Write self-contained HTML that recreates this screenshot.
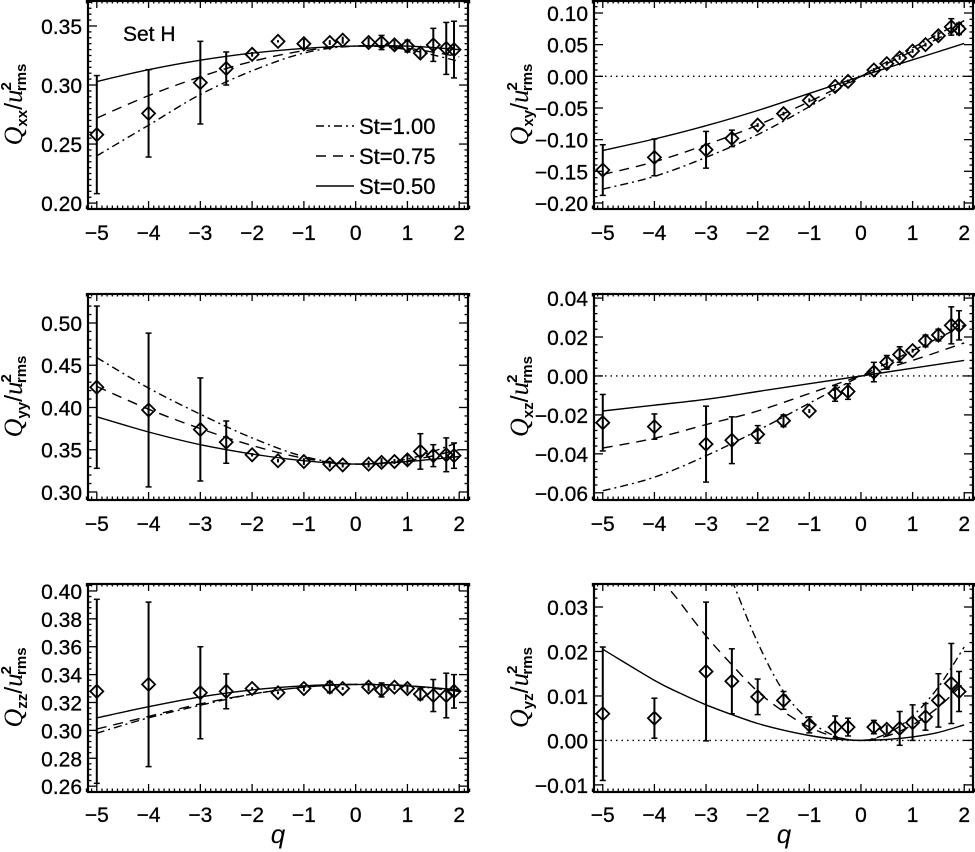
<!DOCTYPE html>
<html><head><meta charset="utf-8"><style>
html,body{margin:0;padding:0;background:#fff}
svg{display:block}
text{font-family:"Liberation Sans",sans-serif;fill:#000}
</style></head><body>
<svg id="fig" width="975" height="852" viewBox="0 0 975 852" xmlns="http://www.w3.org/2000/svg"></svg>
<script>
// ---- data ----
const qData = [-5,-4,-3,-2.5,-2,-1.5,-1,-0.5,-0.25,0.25,0.5,0.75,1,1.25,1.5,1.75,1.9];
const qCurve = [-5,-4,-3,-2,-1,0,1,2];
const qCurveYZ = [-5,-4,-3.5,-3,-2.5,-2,-1.5,-1,-0.5,0,0.5,1,1.5,2];

const xxVal = [0.258,0.276,0.302,0.314,0.326,0.337,0.335,0.336,0.338,0.336,0.336,0.334,0.333,0.327,0.334,0.331,0.330];
const xxErr = [0.050,0.037,0.035,0.014,0.002,0.001,0.004,0.002,0.003,0.004,0.006,0.004,0.005,0.004,0.014,0.022,0.024];
const xxSt100 = [0.240,0.266,0.292,0.312,0.327,0.333,0.330,0.320];
const xxSt075 = [0.272,0.291,0.307,0.320,0.329,0.333,0.331,0.324];
const xxSt050 = [0.303,0.313,0.321,0.327,0.331,0.333,0.333,0.330];

const xyVal = [-0.148,-0.128,-0.116,-0.098,-0.077,-0.059,-0.038,-0.016,-0.008,0.010,0.020,0.029,0.040,0.050,0.064,0.078,0.075];
const xyErr = [0.040,0.029,0.029,0.013,0.003,0.003,0.003,0.003,0.003,0.003,0.003,0.003,0.003,0.003,0.007,0.013,0.009];
const xySt100 = [-0.178,-0.158,-0.128,-0.092,-0.048,0,0.045,0.088];
const xySt075 = [-0.155,-0.135,-0.108,-0.077,-0.040,0,0.040,0.080];
const xySt050 = [-0.117,-0.099,-0.078,-0.054,-0.027,0,0.026,0.052];

const yyVal = [0.424,0.397,0.374,0.359,0.344,0.337,0.336,0.333,0.332,0.333,0.335,0.336,0.338,0.348,0.343,0.344,0.343];
const yyErr = [0.096,0.091,0.061,0.025,0.002,0.002,0.004,0.004,0.003,0.004,0.005,0.003,0.006,0.021,0.013,0.020,0.015];
const yySt100 = [0.459,0.423,0.392,0.364,0.342,0.333,0.339,0.359];
const yySt075 = [0.425,0.398,0.375,0.355,0.340,0.333,0.337,0.350];
const yySt050 = [0.389,0.371,0.356,0.345,0.337,0.333,0.336,0.342];

const xzVal = [-0.024,-0.026,-0.035,-0.033,-0.030,-0.023,-0.018,-0.009,-0.008,0.002,0.007,0.011,0.013,0.018,0.021,0.026,0.026];
const xzErr = [0.0145,0.0065,0.0195,0.012,0.0045,0.003,0.001,0.004,0.004,0.005,0.0035,0.004,0.001,0.003,0.003,0.0095,0.0075];
const xzSt100 = [-0.059,-0.052,-0.041,-0.028,-0.014,0,0.013,0.026];
const xzSt075 = [-0.037,-0.032,-0.025,-0.018,-0.009,0,0.008,0.017];
const xzSt050 = [-0.018,-0.015,-0.012,-0.008,-0.004,0,0.004,0.008];

const zzVal = [0.328,0.333,0.327,0.328,0.330,0.327,0.330,0.331,0.330,0.331,0.329,0.331,0.330,0.326,0.325,0.325,0.328];
const zzErr = [0.066,0.059,0.033,0.0125,0.001,0.001,0.002,0.004,0.001,0.003,0.005,0.002,0.003,0.004,0.0115,0.016,0.012];
const zzSt100 = [0.298,0.309,0.318,0.326,0.331,0.333,0.332,0.328];
const zzSt075 = [0.301,0.310,0.319,0.326,0.331,0.333,0.332,0.328];
const zzSt050 = [0.309,0.317,0.324,0.329,0.332,0.333,0.332,0.329];

const yzVal = [0.006,0.005,0.0155,0.0133,0.0098,0.009,0.0035,0.003,0.003,0.003,0.0025,0.0027,0.004,0.0053,0.009,0.0128,0.011];
const yzErr = [0.015,0.0045,0.0156,0.0073,0.004,0.002,0.0018,0.0025,0.002,0.0015,0.001,0.0038,0.004,0.003,0.006,0.009,0.0045];
const yzSt100 = [0.12,0.08,0.064,0.050,0.036,0.022,0.011,0.0045,0.001,0,0.0015,0.0055,0.012,0.021];
const yzSt075 = [0.060,0.039,0.031,0.0235,0.017,0.011,0.0065,0.003,0.0008,0,0.001,0.0035,0.0075,0.013];
const yzSt050 = [0.0205,0.0135,0.0106,0.008,0.0058,0.0038,0.0023,0.0011,0.0003,0,0.0002,0.0008,0.0018,0.0035];

const xTicks = [-5,-4,-3,-2,-1,0,1,2];
const xxTicks = ["0.20","0.25","0.30","0.35"];
const xyTicks = ["-0.20","-0.15","-0.10","-0.05","0.00","0.05","0.10"];
const yyTicks = ["0.30","0.35","0.40","0.45","0.50"];
const xzTicks = ["-0.06","-0.04","-0.02","0.00","0.02","0.04"];
const zzTicks = ["0.26","0.28","0.30","0.32","0.34","0.36","0.38","0.40"];
const yzTicks = ["-0.01","0.00","0.01","0.02","0.03"];

// ---- drawing ----
const NS="http://www.w3.org/2000/svg";
const svg=document.getElementById('fig');
function mk(tag,attrs,parent){const e=document.createElementNS(NS,tag);for(const k in attrs)e.setAttribute(k,attrs[k]);(parent||svg).appendChild(e);return e;}

const panels=[
 {id:'xx',sub:'xx',L:88,R:468,T:0,B:209,y0:0.195,y1:0.372,yminor:0.005,ticks:xxTicks,val:xxVal,err:xxErr,c:[xxSt100,xxSt075,xxSt050],cq:qCurve,xlab:232,zero:false},
 {id:'xy',sub:'xy',L:594,R:973,T:0,B:209,y0:-0.2095,y1:0.1205,yminor:0.01,ticks:xyTicks,val:xyVal,err:xyErr,c:[xySt100,xySt075,xySt050],cq:qCurve,xlab:232,zero:true},
 {id:'yy',sub:'yy',L:88,R:468,T:293,B:500,y0:0.2905,y1:0.5355,yminor:0.01,ticks:yyTicks,val:yyVal,err:yyErr,c:[yySt100,yySt075,yySt050],cq:qCurve,xlab:523,zero:false},
 {id:'xz',sub:'xz',L:594,R:973,T:293,B:500,y0:-0.0637,y1:0.0426,yminor:0.004,ticks:xzTicks,val:xzVal,err:xzErr,c:[xzSt100,xzSt075,xzSt050],cq:qCurve,xlab:523,zero:true},
 {id:'zz',sub:'zz',L:88,R:468,T:583,B:792,y0:0.2558,y1:0.4057,yminor:0.004,ticks:zzTicks,val:zzVal,err:zzErr,c:[zzSt100,zzSt075,zzSt050],cq:qCurve,xlab:814,zero:false},
 {id:'yz',sub:'yz',L:594,R:973,T:583,B:792,y0:-0.0116,y1:0.0354,yminor:0.002,ticks:yzTicks,val:yzVal,err:yzErr,c:[yzSt100,yzSt075,yzSt050],cq:qCurveYZ,xlab:814,zero:true}
];
const dashes=["8,4,2,4","10,7",null];

function spline(px,py){
 let d='M'+px[0].toFixed(1)+','+py[0].toFixed(1);
 for(let i=0;i<px.length-1;i++){
  const x0=px[Math.max(i-1,0)],y0=py[Math.max(i-1,0)],x1=px[i],y1=py[i],x2=px[i+1],y2=py[i+1],x3=px[Math.min(i+2,px.length-1)],y3=py[Math.min(i+2,px.length-1)];
  const c1x=x1+(x2-x0)/6,c1y=y1+(y2-y0)/6,c2x=x2-(x3-x1)/6,c2y=y2-(y3-y1)/6;
  d+=' C'+c1x.toFixed(1)+','+c1y.toFixed(1)+' '+c2x.toFixed(1)+','+c2y.toFixed(1)+' '+x2.toFixed(1)+','+y2.toFixed(1);
 }
 return d;
}

panels.forEach(p=>{
 const xs=q=>p.L+(q+5.17)/7.34*(p.R-p.L);
 const ys=v=>p.B-(v-p.y0)/(p.y1-p.y0)*(p.B-p.T);
 const g=mk('g',{});
 
 
 const cp=mk('clipPath',{id:'clip'+p.id},g);
 mk('rect',{x:p.L,y:p.T,width:p.R-p.L,height:p.B-p.T},cp);
 // ticks
 const tk=mk('g',{stroke:'#000','stroke-width':1.3},g);
 
 
 for(let i=-52;i<=22;i++){const q=i/10;const x=xs(q);const maj=(i%10===0);const len=maj?8:3.5;
  mk('line',{x1:x,y1:p.B,x2:x,y2:p.B-len},tk);mk('line',{x1:x,y1:p.T,x2:x,y2:p.T+len},tk);}
 const yfirst=Math.ceil(p.y0/p.yminor-1e-6),ylast=Math.floor(p.y1/p.yminor+1e-6);
 const majVals=p.ticks.map(Number);
 for(let i=yfirst;i<=ylast;i++){const v=i*p.yminor;const y=ys(v);
  const maj=majVals.some(m=>Math.abs(m-v)<p.yminor/10);const len=maj?9:3.5;
  mk('line',{x1:p.L,y1:y,x2:p.L+len,y2:y},tk);mk('line',{x1:p.R,y1:y,x2:p.R-len,y2:y},tk);}
 // tick labels
 xTicks.forEach(q=>{const t=mk('text',{x:xs(q),y:p.xlab+8,'font-size':21,'text-anchor':'middle','stroke':'#000','stroke-width':0.3},g);t.textContent=(q<0?'\u2212'+(-q):q);
  });
 p.ticks.forEach(s=>{const v=Number(s);const t=mk('text',{x:p.L-6,y:ys(v)+8,'font-size':21,'text-anchor':'end','stroke':'#000','stroke-width':0.3},g);t.textContent=s.replace('-','\u2212');
  });
 // y title
 const cy=(p.T+p.B)/2, tx=p.L-66;
 const yt=mk('text',{x:0,y:0,'font-size':22,'text-anchor':'middle',transform:`translate(${tx},${cy}) rotate(-90)`},g);
 
 yt.innerHTML=`<tspan font-family="Liberation Serif" font-style="italic" font-size="26">Q</tspan><tspan font-size="15" font-weight="bold" dy="5">${p.sub}</tspan><tspan dy="-5" font-size="25">/</tspan><tspan font-family="Liberation Serif" font-style="italic" font-size="27">u</tspan><tspan font-size="15" font-weight="bold" dy="-11" dx="-1">2</tspan><tspan font-size="15" font-weight="bold" dy="15" dx="-9">rms</tspan>`;
 // zero line
 if(p.zero){const z=mk('line',{x1:p.L,y1:ys(0),x2:p.R,y2:ys(0),stroke:'#000','stroke-width':1.3,'stroke-dasharray':'1.5,4'},g);
  }
 // curves
 const names=['curve-st100','curve-st075','curve-st050'];
 p.c.forEach((arr,k)=>{const path=mk('path',{d:spline(p.cq.map(xs),arr.map(ys)),fill:'none',stroke:'#000','stroke-width':1.4,'clip-path':`url(#clip${p.id})`},g);
  if(dashes[k])path.setAttribute('stroke-dasharray',dashes[k]);
  });
 // data points
 qData.forEach((q,i)=>{const x=xs(q),y=ys(p.val[i]);
  const e=mk('line',{x1:x,y1:ys(p.val[i]-p.err[i]),x2:x,y2:ys(p.val[i]+p.err[i]),stroke:'#000','stroke-width':2,'clip-path':`url(#clip${p.id})`},g);
  
  [p.val[i]-p.err[i],p.val[i]+p.err[i]].forEach(v=>{if(p.err[i]>0.0005*(p.y1-p.y0)*50){mk('line',{x1:x-3,y1:ys(v),x2:x+3,y2:ys(v),stroke:'#000','stroke-width':1.5,'clip-path':`url(#clip${p.id})`},g);}});
  const d=mk('path',{d:`M${x-6.5},${y} L${x},${y-6.5} L${x+6.5},${y} L${x},${y+6.5} Z`,fill:'none',stroke:'#000','stroke-width':1.8},g);
  });
 // frame
 const fr=mk('rect',{x:p.L,y:p.T+1,width:p.R-p.L,height:p.B-p.T-1,fill:'none',stroke:'#000','stroke-width':2.2},g);
 
});
// x axis titles
[[278,'x-axis-title-left'],[784,'x-axis-title-right']].forEach(([x,n])=>{const t=mk('text',{x:x,y:843,'font-size':26,'text-anchor':'middle','font-family':'Liberation Serif','font-style':'italic'});t.textContent='q';
 });
// Set H
const sh=mk('text',{x:123,y:41,'font-size':21,'stroke':'#000','stroke-width':0.3});sh.textContent='Set  H';

// legend
const lg=mk('g',{});

const legLabels=['St=1.00','St=0.75','St=0.50'];
legLabels.forEach((s,k)=>{const y=122+k*30;
 const l=mk('line',{x1:316,y1:y+4,x2:354,y2:y+4,stroke:'#000','stroke-width':1.4},lg);if(dashes[k])l.setAttribute('stroke-dasharray',dashes[k]);
 
 const t=mk('text',{x:359,y:y+12,'font-size':22,'stroke':'#000','stroke-width':0.3},lg);t.textContent=s;
 });
</script>
</body></html>
